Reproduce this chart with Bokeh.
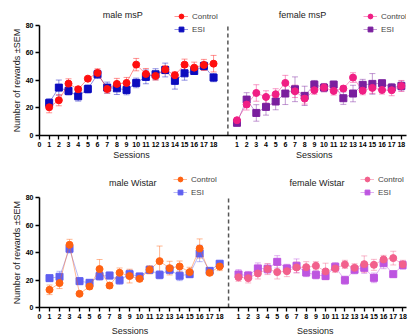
import math
from bokeh.plotting import figure
from bokeh.models import (ColumnDataSource, Whisker, TeeHead, Label, Legend,
                          LegendItem, FixedTicker, Range1d)
from bokeh.layouts import column, row
from bokeh.embed import file_html
from bokeh.resources import INLINE

FONT = "Liberation Sans"

sessions = list(range(1, 19))
male_tick_labels = list(range(0, 19))
female_tick_labels = list(range(1, 19))
y_ticks = [0, 20, 40, 60, 80]
group_labels = ["Control", "ESI"]
y_label = "Number of rewards \u00b1SEM"
x_label = "Sessions"

# ---- male msP ----
msp_male_control = [20.5, 25.6, 37.7, 33.6, 41.3, 45.5, 33.8, 37.5, 38.2, 51.5, 44.7, 43.3, 47.9, 43.8, 51.5, 49.3, 51.3, 52.2]
msp_male_control_sem = [4, 4, 3.5, 2, 1.5, 3, 3, 4, 4, 4.5, 4, 3, 3, 2.5, 4, 4, 4, 6]
msp_male_esi = [23.7, 34.8, 32.4, 28.5, 33.8, 44.5, 34.8, 34.3, 33.1, 38.2, 42.6, 44.5, 47.6, 39.7, 45.2, 46.9, 50.5, 42.1]
msp_male_esi_sem = [3, 5.5, 3, 3.5, 3, 3, 4, 4.5, 3.5, 3.5, 5, 4, 5, 6, 5, 2.5, 3, 3]
# ---- female msP ----
msp_female_control = [11.1, 22.5, 30.9, 28.0, 30.0, 38.2, 32.1, 26.8, 32.9, 34.8, 32.4, 34.1, 42.1, 32.6, 34.6, 33.1, 32.9, 36.0]
msp_female_control_sem = [2, 4, 6, 4.5, 4, 5.5, 4.5, 4, 3, 3, 3, 2, 3.5, 3, 4, 3, 4, 4]
msp_female_esi = [9.2, 26.1, 16.4, 20.8, 24.7, 30.5, 33.6, 28.8, 37.0, 34.8, 37.0, 27.1, 30.5, 36.8, 37.5, 38.0, 34.8, 36.0]
msp_female_esi_sem = [1.5, 5, 6, 6, 6, 8, 9, 7, 3, 3, 2.5, 4.5, 6, 4, 7.5, 2, 3, 3.5]
# ---- male Wistar ----
wis_male_control = [12.9, 17.8, 45.7, 10.0, 15.3, 28.0, 16.0, 25.3, 22.9, 20.9, 27.5, 33.8, 28.7, 29.9, 25.8, 43.0, 25.3, 29.9]
wis_male_control_sem = [3.5, 4, 4, 1, 2, 7, 2, 3.5, 5, 2, 3, 11, 5, 4, 3.5, 7, 2, 3]
wis_male_esi = [21.4, 22.4, 42.8, 19.2, 18.0, 22.9, 23.3, 19.9, 24.3, 22.6, 27.5, 23.8, 27.5, 23.1, 24.3, 39.4, 26.7, 31.9]
wis_male_esi_sem = [2, 4, 3, 2.5, 2, 3, 2.5, 3, 3, 2.5, 2.5, 3, 3, 3.5, 2.5, 6, 2, 2]
# ---- female Wistar ----
wis_female_control = [22.1, 21.4, 24.8, 28.0, 25.8, 26.5, 29.2, 29.4, 30.4, 26.3, 28.5, 31.4, 28.9, 31.6, 31.1, 35.0, 36.0, 31.4]
wis_female_control_sem = [3, 3.5, 4, 4, 5, 4, 4, 4, 3, 6, 3, 3, 3, 6, 4, 3, 5, 3]
wis_female_esi = [24.1, 23.3, 28.5, 28.2, 33.3, 28.5, 30.4, 25.5, 23.8, 22.9, 29.7, 19.9, 27.5, 28.9, 21.6, 32.3, 24.3, 30.9]
wis_female_esi_sem = [3.5, 3, 4, 3.5, 4.5, 3, 5, 3, 3, 2, 3, 3, 3, 4, 3.5, 4, 2, 3]

YLAB_W = 22
MAIN_W = 386
BORDER_L = 14
BORDER_R = 2
BORDER_B = 15
X_END = 37.95


def add_series(p, xs, ys, sems, color, marker):
    src = ColumnDataSource(dict(x=xs, y=ys,
                                upper=[a + b for a, b in zip(ys, sems)],
                                lower=[a - b for a, b in zip(ys, sems)]))
    w = Whisker(source=src, base="x", upper="upper", lower="lower",
                line_color=color, line_alpha=0.45, line_width=1,
                upper_head=TeeHead(size=6, line_color=color, line_alpha=0.45, line_width=1),
                lower_head=TeeHead(size=6, line_color=color, line_alpha=0.45, line_width=1))
    p.add_layout(w)
    ln = p.line("x", "y", source=src, line_color=color, line_alpha=0.45, line_width=1)
    sc = p.scatter("x", "y", source=src, marker=marker, size=7,
                   fill_color=color, line_color=color)
    return ln, sc


def plain(p):
    p.outline_line_color = None
    p.xgrid.visible = False
    p.ygrid.visible = False


def make_panel(series, titles, legend_pos, male_scale, female_offset, dash_x,
               y_top, height, title_y, title_x, sessions_x, footer_h, footer_y):
    x_range = Range1d(0, X_END)
    y_range = Range1d(0, y_top)
    p = figure(width=MAIN_W, height=height, output_backend="svg", toolbar_location=None,
               x_range=x_range, y_range=y_range,
               min_border_left=BORDER_L, min_border_right=BORDER_R,
               min_border_top=0, min_border_bottom=BORDER_B)
    plain(p)

    male_x = [s * male_scale for s in sessions]
    female_x = [female_offset + s for s in sessions]
    male_ticks = [t * male_scale for t in male_tick_labels]
    female_ticks = [female_offset + t for t in female_tick_labels]

    overrides = {}
    for t, l in zip(male_ticks, male_tick_labels):
        overrides[t] = str(l)
    for t, l in zip(female_ticks, female_tick_labels):
        overrides[t] = str(l)

    p.xaxis.ticker = FixedTicker(ticks=male_ticks + female_ticks, minor_ticks=[])
    p.xaxis.major_label_overrides = overrides
    p.yaxis.ticker = FixedTicker(ticks=y_ticks, minor_ticks=[])
    p.yaxis.bounds = (y_ticks[0], y_ticks[-1])
    for ax in (p.xaxis, p.yaxis):
        ax.axis_line_width = 1.5
        ax.major_tick_line_width = 1.3
        ax.major_tick_out = 4
        ax.major_tick_in = 0
        ax.major_label_text_font = FONT
        ax.major_label_text_font_style = "bold"
        ax.major_label_text_font_size = "7px"
        ax.major_label_text_color = "black"
        ax.major_label_standoff = 2

    # dashed divider between the male and female halves
    p.segment(x0=[dash_x], y0=[y_ticks[0]], x1=[dash_x], y1=[y_ticks[-1]],
              line_color="#555555", line_width=1.5, line_dash="4 3")

    for half, xs in (("male", male_x), ("female", female_x)):
        (c_vals, c_sem, c_col), (e_vals, e_sem, e_col) = series[half]
        e_ln, e_sc = add_series(p, xs, e_vals, e_sem, e_col, "square")
        c_ln, c_sc = add_series(p, xs, c_vals, c_sem, c_col, "circle")
        leg = Legend(items=[LegendItem(label=group_labels[0], renderers=[c_ln, c_sc]),
                            LegendItem(label=group_labels[1], renderers=[e_ln, e_sc])],
                     location=legend_pos[half], glyph_width=14, glyph_height=12,
                     label_height=12, spacing=1, padding=0, margin=0,
                     label_standoff=4, border_line_alpha=0, background_fill_alpha=0,
                     label_text_font=FONT, label_text_font_size="8px")
        p.add_layout(leg)
        p.add_layout(Label(x=title_x[half], y=title_y, y_units="screen", text=titles[half],
                           text_align="center", text_baseline="middle",
                           text_font=FONT, text_font_size="9px", text_color="#222222"))

    # y axis label column
    yl = figure(width=YLAB_W, height=height, output_backend="svg", toolbar_location=None,
                x_range=Range1d(0, YLAB_W), y_range=y_range,
                x_axis_location=None, y_axis_location=None,
                min_border_left=0, min_border_right=0,
                min_border_top=0, min_border_bottom=BORDER_B)
    plain(yl)
    yl.add_layout(Label(x=16, y=(y_ticks[0] + y_ticks[-1]) / 2, text=y_label,
                        angle=math.pi / 2, text_align="center", text_baseline="middle",
                        text_font=FONT, text_font_size="9px", text_color="#222222"))

    # "Sessions" footer
    ft = figure(width=YLAB_W + MAIN_W, height=footer_h, output_backend="svg",
                toolbar_location=None, x_range=x_range, y_range=Range1d(0, 1),
                x_axis_location=None, y_axis_location=None,
                min_border_left=YLAB_W + BORDER_L, min_border_right=BORDER_R,
                min_border_top=0, min_border_bottom=0)
    plain(ft)
    for half in ("male", "female"):
        ft.add_layout(Label(x=sessions_x[half], y=footer_y, text=x_label,
                            text_align="center", text_baseline="middle",
                            text_font=FONT, text_font_size="9px", text_color="#222222"))
    return column(row(yl, p, spacing=0), ft, spacing=0)


top = make_panel(
    series={"male": ((msp_male_control, msp_male_control_sem, "#ff0f0f"),
                     (msp_male_esi, msp_male_esi_sem, "#0c0cbe")),
            "female": ((msp_female_control, msp_female_control_sem, "#f01e84"),
                       (msp_female_esi, msp_female_esi_sem, "#7a1f9e"))},
    titles={"male": "male msP", "female": "female msP"},
    legend_pos={"male": (135, 100), "female": (324, 100)},
    male_scale=1.0, female_offset=19.42, dash_x=19.48,
    y_top=98.1, height=150, title_y=121,
    title_x={"male": 8.6, "female": 27.2}, sessions_x={"male": 9.74, "female": 28.5},
    footer_h=12, footer_y=0.6)

bottom = make_panel(
    series={"male": ((wis_male_control, wis_male_control_sem, "#ff6212"),
                     (wis_male_esi, wis_male_esi_sem, "#5f5ff0")),
            "female": ((wis_female_control, wis_female_control_sem, "#f2608c"),
                       (wis_female_esi, wis_female_esi_sem, "#bd55e0"))},
    titles={"male": "male Wistar", "female": "female Wistar"},
    legend_pos={"male": (134, 109), "female": (321, 109)},
    male_scale=1.035, female_offset=19.58, dash_x=19.55,
    y_top=105.7, height=160, title_y=125,
    title_x={"male": 9.64, "female": 28.7}, sessions_x={"male": 9.6, "female": 28.6},
    footer_h=14, footer_y=0.36)

layout = column(top, bottom, spacing=0)
open("out.html", "w").write(file_html(layout, INLINE))
